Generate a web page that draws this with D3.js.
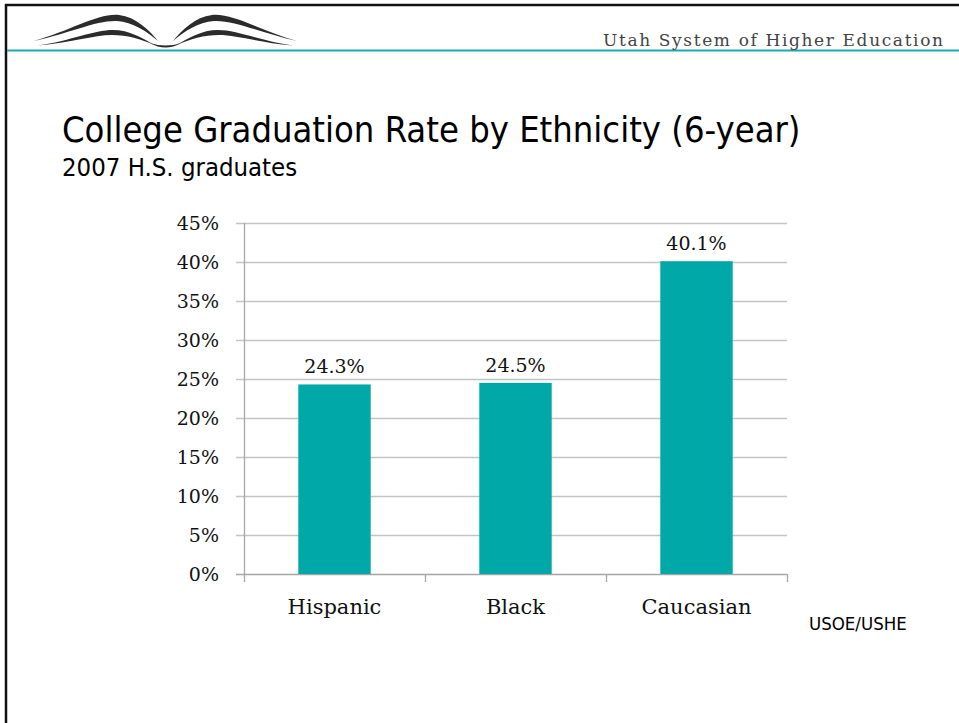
<!DOCTYPE html>
<html>
<head>
<meta charset="utf-8">
<script src="https://cdn.jsdelivr.net/npm/d3@7/dist/d3.min.js"></script>
<style>
  html, body { margin: 0; padding: 0; background: #ffffff; }
  svg { display: block; }
</style>
</head>
<body>
<svg id="chart" width="959" height="723"></svg>
<script>
// ---- data ----
const categories = ["Hispanic", "Black", "Caucasian"];
const rates = [24.3, 24.5, 40.1];
const valueLabels = ["24.3%", "24.5%", "40.1%"];
const yTicks = [0, 5, 10, 15, 20, 25, 30, 35, 40, 45];
const titleText = "College Graduation Rate by Ethnicity (6-year)";
const subtitleText = "2007 H.S. graduates";
const headerText = "Utah System of Higher Education";
const sourceText = "USOE/USHE";

const svg = d3.select("#chart");
const teal = "#00A8A8";
const sans = "DejaVu Sans Condensed, DejaVu Sans";
const serif = "DejaVu Serif";

// ---- slide frame ----
svg.append("rect").attr("x", 0).attr("y", 0).attr("width", 959).attr("height", 723).attr("fill", "#fff");
svg.append("line").attr("x1", 5).attr("x2", 959).attr("y1", 5).attr("y2", 5)
  .attr("stroke", "#111").attr("stroke-width", 2.5);
svg.append("line").attr("x1", 6).attr("x2", 6).attr("y1", 4).attr("y2", 723)
  .attr("stroke", "#111").attr("stroke-width", 2.5);
svg.append("line").attr("x1", 7).attr("x2", 959).attr("y1", 50.5).attr("y2", 50.5)
  .attr("stroke", "#1aa9b0").attr("stroke-width", 2);

// ---- logo (open book wings) ----
const logo = svg.append("g").attr("fill", "#2b2b2b");
const wing = g => {
  g.append("path").attr("d",
    "M34,41 C70,31 98,13 119,15 C136,17 149,30 158,41 C146,31 133,22 117,21 C97,20 70,33 34,41 Z");
  g.append("path").attr("d",
    "M38,45.5 C70,41 94,30 113,30 C129,30 143,38 154,45 C141,39 127,35 112,35 C94,35 70,43 38,45.5 Z");
};
wing(logo.append("g"));
wing(logo.append("g").attr("transform", "translate(331,0) scale(-1,1)"));
logo.append("path").attr("d", "M150,43 Q165.5,52 181,43 Q165.5,48 150,43 Z");

svg.append("text")
  .attr("x", 603).attr("y", 45.5)
  .attr("font-family", serif)
  .attr("font-size", 17)
  .attr("textLength", 340)
  .attr("lengthAdjust", "spacing")
  .attr("fill", "#444")
  .text(headerText);

// ---- titles ----
svg.append("text")
  .attr("x", 62).attr("y", 142)
  .attr("font-family", sans)
  .attr("font-size", 36)
  .attr("fill", "#000")
  .text(titleText);
svg.append("text")
  .attr("x", 62).attr("y", 176)
  .attr("font-family", sans)
  .attr("font-size", 25.5)
  .attr("fill", "#000")
  .text(subtitleText);

// ---- scales ----
const x = d3.scaleBand().domain(categories).range([244, 787])
  .paddingInner(0.6).paddingOuter(0.3);
const y = d3.scaleLinear().domain([0, 45]).range([574, 223]);

// gridlines
svg.append("g").selectAll("line").data(yTicks).join("line")
  .attr("x1", 236).attr("x2", 787)
  .attr("y1", d => Math.round(y(d)) + 0.5).attr("y2", d => Math.round(y(d)) + 0.5)
  .attr("stroke", d => d === 0 ? "#a6a6a6" : "#c4c4c4").attr("stroke-width", 1.3);

// y axis line
svg.append("line").attr("x1", 244.5).attr("x2", 244.5).attr("y1", y(45)).attr("y2", y(0))
  .attr("stroke", "#a6a6a6").attr("stroke-width", 1.3);

// y tick labels
svg.append("g").selectAll("text").data(yTicks).join("text")
  .attr("x", 219).attr("y", d => y(d) + 7)
  .attr("text-anchor", "end")
  .attr("font-family", serif).attr("font-size", 19)
  .attr("fill", "#111")
  .text(d => d + "%");

// x category ticks at band boundaries
const step = x.step();
const bounds = categories.map(c => x(c) - step * x.paddingInner() / 2);
bounds.push(x.range()[1]);
bounds[0] = x.range()[0];
svg.append("g").selectAll("line").data(bounds).join("line")
  .attr("x1", d => Math.round(d) + 0.5).attr("x2", d => Math.round(d) + 0.5)
  .attr("y1", y(0)).attr("y2", y(0) + 8)
  .attr("stroke", "#a6a6a6").attr("stroke-width", 1.3);

// bars
svg.append("g").selectAll("rect").data(categories).join("rect")
  .attr("x", c => x(c)).attr("width", x.bandwidth())
  .attr("y", (c, i) => y(rates[i])).attr("height", (c, i) => y(0) - y(rates[i]))
  .attr("fill", teal);

// value labels
svg.append("g").selectAll("text").data(categories).join("text")
  .attr("x", c => x(c) + x.bandwidth() / 2)
  .attr("y", (c, i) => y(rates[i]) - 11)
  .attr("text-anchor", "middle")
  .attr("font-family", serif).attr("font-size", 19)
  .attr("fill", "#111")
  .text((c, i) => valueLabels[i]);

// category labels
svg.append("g").selectAll("text").data(categories).join("text")
  .attr("x", c => x(c) + x.bandwidth() / 2)
  .attr("y", 614)
  .attr("text-anchor", "middle")
  .attr("font-family", serif).attr("font-size", 21)
  .attr("fill", "#111")
  .text(c => c);

// source
svg.append("text")
  .attr("x", 809).attr("y", 630)
  .attr("font-family", sans)
  .attr("font-size", 18.5)
  .attr("fill", "#000")
  .text(sourceText);
</script>
</body>
</html>
